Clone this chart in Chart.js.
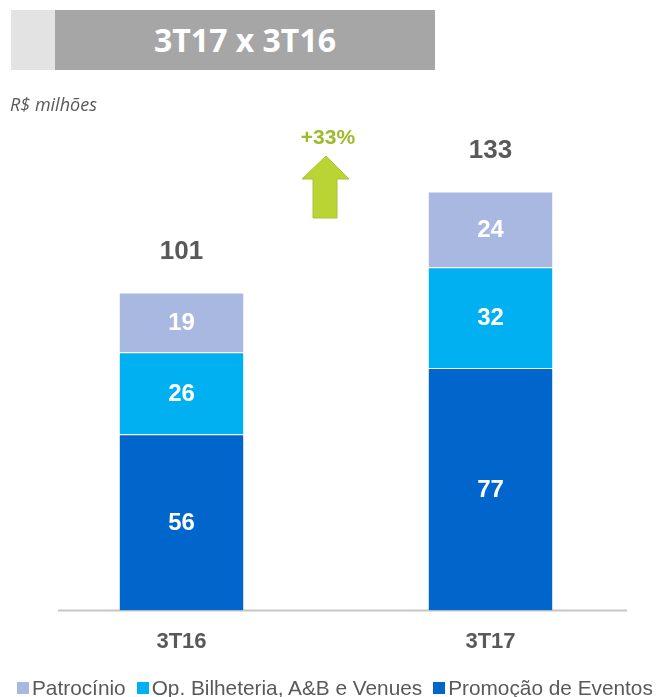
<!DOCTYPE html>
<html>
<head>
<meta charset="utf-8">
<script src="https://cdn.jsdelivr.net/npm/chart.js@4"></script>
<style>
  html, body { margin: 0; padding: 0; background: #fff; overflow: hidden; }
  #wrap { position: relative; width: 665px; height: 697px; }
  #chart { position: absolute; left: 0; top: 0; }
  .hdr-light { position: absolute; left: 11px; top: 10px; width: 44px; height: 60px; background: #e3e3e3; }
  .hdr-dark { position: absolute; left: 55px; top: 10px; width: 380px; height: 60px; background: #a6a6a6;
    color: #fff; font: bold 32px "Open Sans", "Liberation Sans", sans-serif; text-align: center; line-height: 60px; }
  .unit { position: absolute; left: 10px; top: 92px; font: italic 18px "Open Sans", "Liberation Sans", sans-serif; color: #595959; }
  .growth { position: absolute; left: 288px; top: 125px; width: 80px; text-align: center;
    font: bold 21px "Liberation Sans", Arial, sans-serif; color: #9bbb2a; }
  #arrow { position: absolute; left: 300px; top: 154px; }
  #legend { position: absolute; left: 17px; top: 676px; font: 20.8px "Liberation Sans", Arial, sans-serif; color: #595959;
    white-space: nowrap; display: flex; align-items: center; }
  #legend .item { display: flex; align-items: center; margin-right: 11px; }
  #legend .box { width: 12px; height: 12px; margin-right: 3px; }
</style>
</head>
<body>
<div id="wrap">
  <canvas id="chart" width="665" height="697"></canvas>
  <div class="hdr-light"></div>
  <div class="hdr-dark">3T17 x 3T16</div>
  <div class="unit">R$ milhões</div>
  <div class="growth">+33%</div>
  <svg id="arrow" width="52" height="66" viewBox="0 0 52 66">
    <polygon points="26,2 49,25 37,25 37,64 13,64 13,25 2,25" fill="#b9d433" stroke="#a7c23a" stroke-width="1"/>
  </svg>
  <div id="legend"></div>
</div>
<script>
const categories = ['3T16', '3T17'];
const promocaoEventos = [56, 77];
const opBilheteria = [26, 32];
const patrocinio = [19, 24];
const seriesNames = ['Promoção de Eventos', 'Op. Bilheteria, A&B e Venues', 'Patrocínio'];
const seriesColors = ['#0066cc', '#00b0f0', '#a9b8e0'];
const yMax = 150;

const totals = categories.map((_, i) => promocaoEventos[i] + opBilheteria[i] + patrocinio[i]);

// HTML legend (order as in reference: top series first)
const legendEl = document.getElementById('legend');
[2, 1, 0].forEach(k => {
  const it = document.createElement('span');
  it.className = 'item';
  const b = document.createElement('span');
  b.className = 'box';
  b.style.background = seriesColors[k];
  const t = document.createElement('span');
  t.textContent = seriesNames[k];
  it.appendChild(b); it.appendChild(t);
  legendEl.appendChild(it);
});

const labelPlugin = {
  id: 'labels',
  beforeDatasetsDraw(chart) {
    const ctx = chart.ctx;
    const y0 = chart.scales.y.getPixelForValue(0);
    ctx.save();
    ctx.strokeStyle = '#c6c6c6';
    ctx.lineWidth = 2;
    ctx.beginPath();
    ctx.moveTo(58, y0);
    ctx.lineTo(627, y0);
    ctx.stroke();
    ctx.restore();
  },
  afterDatasetsDraw(chart) {
    const ctx = chart.ctx;
    ctx.save();
    ctx.textAlign = 'center';
    ctx.textBaseline = 'middle';
    chart.data.datasets.forEach((ds, di) => {
      const meta = chart.getDatasetMeta(di);
      meta.data.forEach((bar, j) => {
        const p = bar.getProps(['x', 'y', 'base'], true);
        ctx.fillStyle = '#ffffff';
        ctx.font = 'bold 24px "Liberation Sans", Arial, sans-serif';
        ctx.fillText(String(ds.data[j]), p.x, (p.y + p.base) / 2 + 1);
      });
    });
    const topMeta = chart.getDatasetMeta(chart.data.datasets.length - 1);
    topMeta.data.forEach((bar, j) => {
      const p = bar.getProps(['x', 'y'], true);
      ctx.fillStyle = '#595959';
      ctx.font = 'bold 26px "Liberation Sans", Arial, sans-serif';
      ctx.fillText(String(totals[j]), p.x, p.y - 41);
    });
    ctx.restore();
  }
};

new Chart(document.getElementById('chart'), {
  type: 'bar',
  data: {
    labels: categories,
    datasets: [
      { label: seriesNames[0], data: promocaoEventos, backgroundColor: seriesColors[0] },
      { label: seriesNames[1], data: opBilheteria, backgroundColor: seriesColors[1] },
      { label: seriesNames[2], data: patrocinio, backgroundColor: seriesColors[2] }
    ].map(d => Object.assign(d, { borderColor: 'rgba(255,255,255,0.3)', borderWidth: { top: 1, left: 0, right: 0, bottom: 0 },
      categoryPercentage: 1, barPercentage: 0.401 }))
  },
  options: {
    responsive: false,
    animation: false,
    devicePixelRatio: 1,
    layout: { padding: { left: 27, right: 20, top: 138, bottom: 24 } },
    plugins: { legend: { display: false }, tooltip: { enabled: false } },
    scales: {
      x: {
        stacked: true,
        grid: { display: false, drawTicks: false },
        border: { display: false },
        ticks: { color: '#595959', padding: 18, font: { family: '"Liberation Sans", Arial, sans-serif', size: 22, weight: 'bold' } }
      },
      y: { stacked: true, display: false, min: 0, max: yMax }
    }
  },
  plugins: [labelPlugin]
});
</script>
</body>
</html>
